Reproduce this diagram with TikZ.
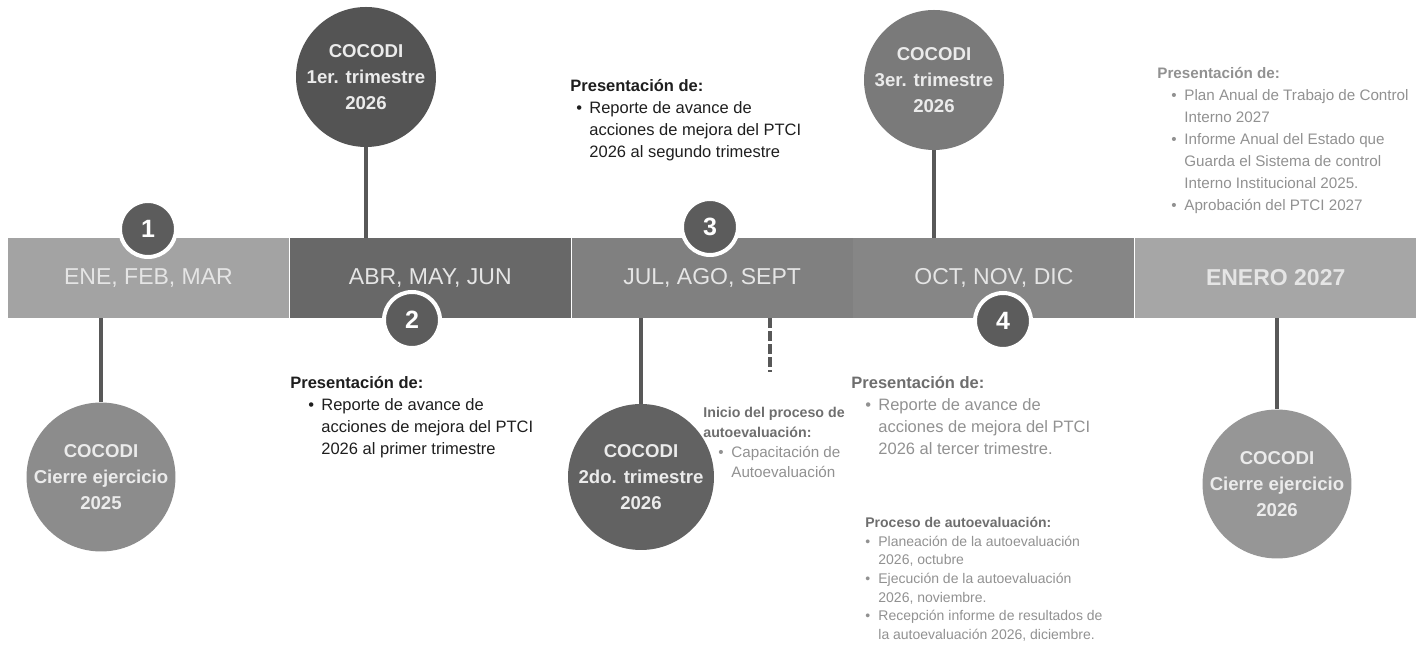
\documentclass[tikz,border=0pt]{standalone}
\usepackage{fontspec}
\setmainfont{Liberation Sans}
\usetikzlibrary{positioning}

\definecolor{gM1}{RGB}{163,163,163}
\definecolor{gM2}{RGB}{104,104,104}
\definecolor{gM3}{RGB}{128,128,128}
\definecolor{gM4}{RGB}{134,134,134}
\definecolor{gM5}{RGB}{166,166,166}
\definecolor{gNum}{RGB}{92,92,92}
\definecolor{gLin}{RGB}{88,88,88}
\definecolor{gC1}{RGB}{84,84,84}
\definecolor{gC3}{RGB}{122,122,122}
\definecolor{gB1}{RGB}{140,140,140}
\definecolor{gB2}{RGB}{98,98,98}
\definecolor{gB3}{RGB}{150,150,150}
\definecolor{tNeg}{RGB}{30,30,30}
\definecolor{tMed}{RGB}{110,110,110}
\definecolor{tCla}{RGB}{145,145,145}

\newcommand{\vi}[1]{\hspace*{#1}\makebox[6.5pt][l]{\textbullet}}
\newcommand{\vc}[1]{\hspace*{#1}\hspace*{6.5pt}}

\begin{document}
\begin{tikzpicture}[x=0.5pt,y=-0.5pt,node distance=0pt]
  \tikzstyle{mes}=[rectangle,minimum width=140.5pt,minimum height=40pt,inner sep=0pt,text=white!90!black,font=\fontsize{11.5}{13}\selectfont]
  \tikzstyle{globo}=[circle,inner sep=0pt,align=center,text=white!92!black,font=\bfseries\fontsize{9.3}{13}\selectfont]
  \tikzstyle{num}=[circle,minimum size=28pt,inner sep=0pt,fill=gNum,draw=white,line width=2pt,text=white,font=\bfseries\fontsize{12.5}{14}\selectfont]
  \tikzstyle{liga}=[draw=gLin,line width=2pt]
  \tikzstyle{nota}=[anchor=north west,align=left,inner sep=0pt,font=\fontsize{8.25}{11}\selectfont]

  \useasboundingbox (0,0) rectangle (1421,656);

  \node[mes,fill=gM1] (m1) at (148.5,278) {ENE, FEB, MAR};
  \node[mes,fill=gM2] (m2) [right=of m1] {ABR, MAY, JUN};
  \node[mes,fill=gM3] (m3) [right=of m2] {JUL, AGO, SEPT};
  \node[mes,fill=gM4] (m4) [right=of m3] {OCT, NOV, DIC};
  \node[mes,fill=gM5,font=\bfseries\fontsize{11.5}{13}\selectfont] (m5) [right=of m4] {ENERO 2027};

  \node[globo,fill=gC1,minimum size=70pt] (c1) at (366,77) {COCODI\\1er. trimestre\\2026};
  \node[globo,fill=gC3,minimum size=70pt] (c3) at (934,80) {COCODI\\3er. trimestre\\2026};
  \node[globo,fill=gB1,minimum size=73pt] (b1) at (101,477) {COCODI\\Cierre ejercicio\\2025};
  \node[globo,fill=gB2,minimum size=73pt] (b2) at (641,477) {COCODI\\2do. trimestre\\2026};
  \node[globo,fill=gB3,minimum size=73pt] (b3) at (1277,484) {COCODI\\Cierre ejercicio\\2026};

  \draw[liga] (c1.south) -- (c1.south |- m2.north);
  \draw[liga] (c3.south) -- (c3.south |- m4.north);
  \draw[liga] (m1.south -| b1.north) -- (b1.north);
  \draw[liga] (m3.south -| b2.north) -- (b2.north);
  \draw[liga] (m5.south -| b3.north) -- (b3.north);
  \coordinate (ini) at (770,372);
  \draw[liga,dash pattern=on 5pt off 1.5pt] (m3.south -| ini) -- (ini);

  \node[num] (n1) at (148,229) {1};
  \node[num] (n2) at (412,320) {2};
  \node[num] (n3) at (710,227) {3};
  \node[num] (n4) at (1003,321) {4};

  \node[nota,text=tNeg] (p2) at (290,376) {\textbf{Presentación de:}\\
    \vi{9pt}Reporte de avance de\\ \vc{9pt}acciones de mejora del PTCI\\ \vc{9pt}2026 al primer trimestre};
  \node[nota,text=tNeg] (p3) at (570,79) {\textbf{Presentación de:}\\
    \vi{3pt}Reporte de avance de\\ \vc{3pt}acciones de mejora del PTCI\\ \vc{3pt}2026 al segundo trimestre};
  \node[nota,text=tCla] (p4) at (851,376) {\textcolor{tMed}{\textbf{Presentación de:}}\\
    \vi{7pt}Reporte de avance de\\ \vc{7pt}acciones de mejora del PTCI\\ \vc{7pt}2026 al tercer trimestre.};
  \node[nota,text=tCla,font=\fontsize{7.6}{10}\selectfont] (ai) at (703,407) {\textcolor{tMed}{\bfseries\fontsize{7.1}{10}\selectfont Inicio del proceso de}\\
    \textcolor{tMed}{\bfseries\fontsize{7.1}{10}\selectfont autoevaluación:}\\ \vi{7.5pt}Capacitación de\\ \vc{7.5pt}Autoevaluación};
  \node[nota,text=tCla,font=\fontsize{7.6}{11}\selectfont] (p5) at (1157,67) {\textbf{Presentación de:}\\
    \vi{7pt}Plan Anual de Trabajo de Control\\ \vc{7pt}Interno 2027\\
    \vi{7pt}Informe Anual del Estado que\\ \vc{7pt}Guarda el Sistema de control\\ \vc{7pt}Interno Institucional 2025.\\
    \vi{7pt}Aprobación del PTCI 2027};
  \node[nota,text=tCla,font=\fontsize{7}{9.3}\selectfont] (pa) at (865,517) {\textcolor{tMed}{\textbf{Proceso de autoevaluación:}}\\
    \vi{0pt}Planeación de la autoevaluación\\ \vc{0pt}2026, octubre\\
    \vi{0pt}Ejecución de la autoevaluación\\ \vc{0pt}2026, noviembre.\\
    \vi{0pt}Recepción informe de resultados de\\ \vc{0pt}la autoevaluación 2026, diciembre.};
\end{tikzpicture}
\end{document}
